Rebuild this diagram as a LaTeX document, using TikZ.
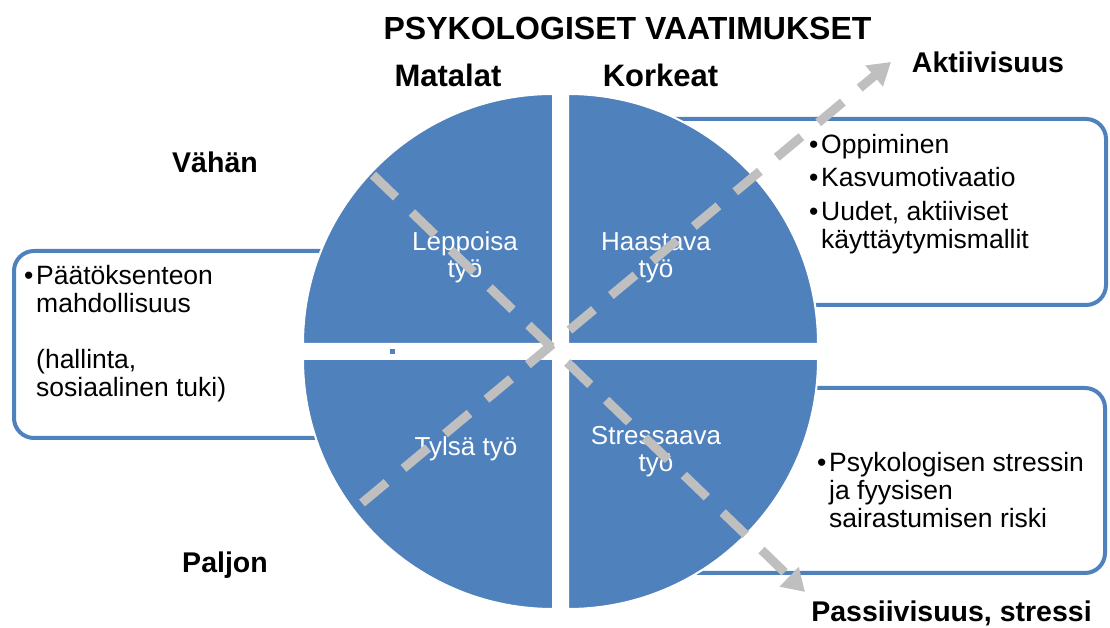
\documentclass[tikz,border=0pt]{standalone}
\usepackage{fontspec}
\setmainfont{Liberation Sans}
\usepackage{tikz}
\usetikzlibrary{arrows.meta}
\definecolor{quadblue}{HTML}{4F81BD}
\definecolor{arrowgray}{HTML}{BFBFBF}
\newcommand{\bul}{\makebox[12pt][l]{\textbullet}}
\tikzset{%
  quarter/.style={
    fill=quadblue,
    draw=white,
    line width=2pt
  },
  side box/.style={
    draw=quadblue,
    line width=4pt,
    rounded corners=20pt
  },
  box text/.style={
    anchor=base west,
    inner sep=0pt,
    font=\fontsize{26.5}{28}\selectfont
  },
  quad text/.style={
    anchor=base,
    inner sep=0pt,
    text=white,
    font=\fontsize{26}{27}\selectfont
  },
  head label/.style={
    anchor=base,
    inner sep=0pt,
    font=\bfseries\fontsize{31}{33}\selectfont
  },
  axis label/.style={
    anchor=base,
    inner sep=0pt,
    font=\bfseries\fontsize{28.5}{30}\selectfont
  },
  trend arrow/.style={
    draw=arrowgray,
    line width=9pt,
    dash pattern=on 32pt off 22pt,
    -{Triangle[length=22pt,width=26pt,fill=arrowgray]}
  },
}

\begin{document}
\begin{tikzpicture}[x=1pt, y=1pt]
\useasboundingbox (0,0) rectangle (1110,628);

    \draw[side box] (450,377) -- (14,377) -- (14,190) -- (450,190);
    \draw[side box] (650,509) -- (1106,509) -- (1106,323) -- (650,323);
    \draw[side box] (650,240) -- (1105,240) -- (1105,55) -- (650,55);

    \draw[quarter] (553,284) -- (303,284) arc[start angle=180, end angle=90, radius=250] -- cycle;
    \draw[quarter] (568,284) -- (568,534) arc[start angle=90, end angle=0, radius=250] -- cycle;
    \draw[quarter] (553,269) -- (553,19) arc[start angle=270, end angle=180, radius=250] -- cycle;
    \draw[quarter] (568,269) -- (818,269) arc[start angle=0, end angle=-90, radius=250] -- cycle;
    \fill[quadblue] (390,274) rectangle ++(5,5);

    \node[quad text] (leppoisa) at (465,377) {\begin{tabular}[t]{@{}c@{}}Leppoisa\\työ\end{tabular}};
    \node[quad text] (haastava) at (656,377) {\begin{tabular}[t]{@{}c@{}}Haastava\\työ\end{tabular}};
    \node[quad text] (tylsa) at (466,172) {Tylsä työ};
    \node[quad text] (stressaava) at (656,183) {\begin{tabular}[t]{@{}c@{}}Stressaava\\työ\end{tabular}};

    \node[head label, font=\bfseries\fontsize{32}{34}\selectfont] (vaatimukset) at (627.5,588) {PSYKOLOGISET VAATIMUKSET};
    \node[head label] (matalat) at (448,541) {Matalat};
    \node[head label] (korkeat) at (660.5,541) {Korkeat};
    \node[axis label] (aktiivisuus) at (988,555) {Aktiivisuus};
    \node[axis label] (vahan) at (215,455) {Vähän};
    \node[axis label] (paljon) at (225,55) {Paljon};
    \node[axis label] (passiivisuus) at (951.5,6) {Passiivisuus, stressi};

    \node[box text] (hallinta) at (24,343) {\begin{tabular}[t]{@{}l@{}l@{}}\bul&Päätöksenteon\\&mahdollisuus\\&\\&(hallinta,\\&sosiaalinen tuki)\end{tabular}};
    \node[box text] (oppiminen) at (809,474) {\begin{tabular}[t]{@{}l@{}l@{}}\bul&Oppiminen\\[5pt]\bul&Kasvumotivaatio\\[6pt]\bul&Uudet, aktiiviset\\&käyttäytymismallit\end{tabular}};
    \node[box text] (riski) at (817,156) {\begin{tabular}[t]{@{}l@{}l@{}}\bul&Psykologisen stressin\\&ja fyysisen\\&sairastumisen riski\end{tabular}};

    \coordinate (aktStart) at (362,125);
    \coordinate (aktTip) at (891,566);
    \coordinate (pasStart) at (373,453);
    \coordinate (pasTip) at (805,36);
    \draw[trend arrow] (aktStart) -- (aktTip);
    \draw[trend arrow] (pasStart) -- (pasTip);
\end{tikzpicture}
\end{document}
